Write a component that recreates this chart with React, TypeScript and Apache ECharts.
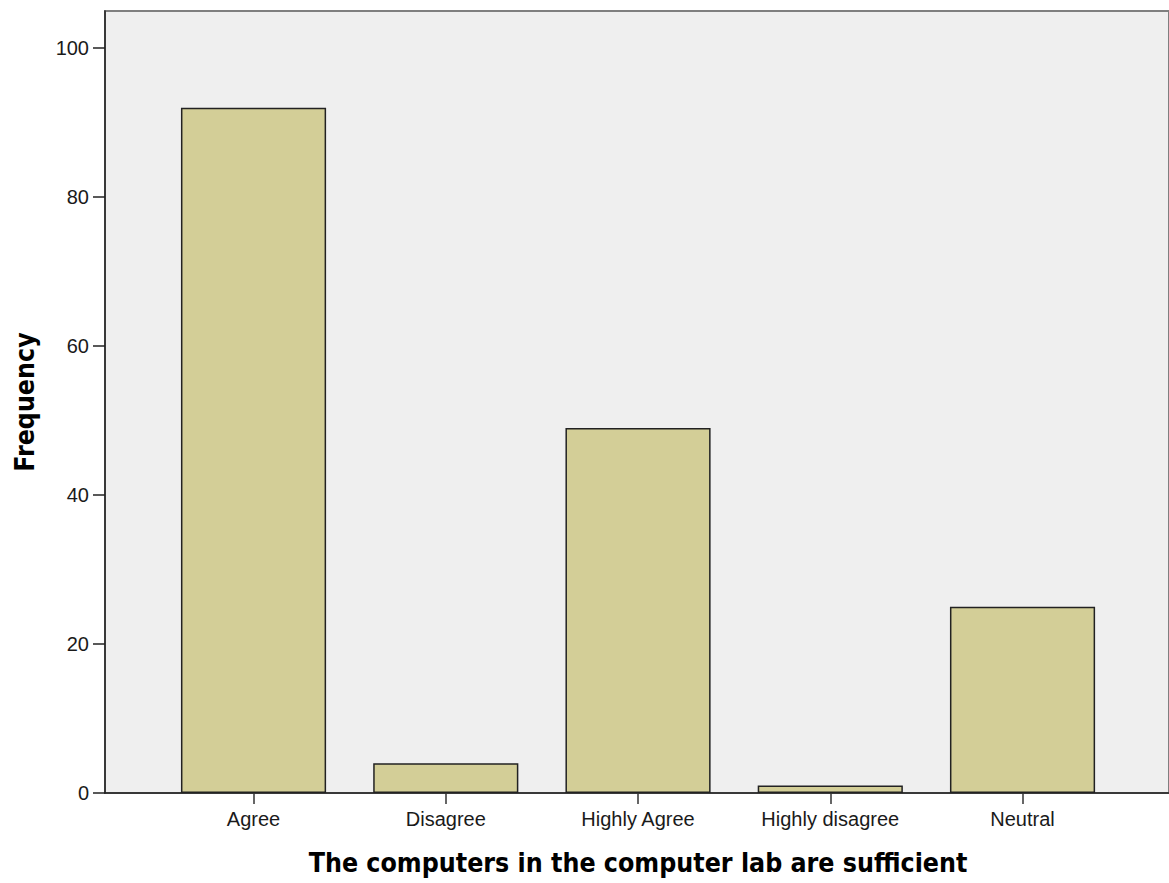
import React, { useEffect, useRef } from "react";
import * as echarts from "echarts";

const categories = ["Agree", "Disagree", "Highly Agree", "Highly disagree", "Neutral"];
const frequencies = [92, 4, 49, 1, 25];
const yTicks = [0, 20, 40, 60, 80, 100];
const xTitle = "The computers in the computer lab are sufficient";
const yTitle = "Frequency";

const labelFont = { fontFamily: "Liberation Sans", fontSize: 20, color: "#1a1a1a" };
const titleFont = {
  fontFamily: "DejaVu Sans Condensed",
  fontWeight: "bold" as const,
  fontSize: 26.5,
  color: "#000",
};

export default function App() {
  const ref = useRef<HTMLDivElement>(null);
  useEffect(() => {
    if (!ref.current) return;
    const chart = echarts.init(ref.current, null, { renderer: "svg" });
    chart.setOption({
      animation: false,
      backgroundColor: "#ffffff",
      grid: [
        {
          left: 105,
          top: 11,
          width: 1100,
          bottom: 90,
          show: true,
          backgroundColor: "#efefef",
          borderColor: "#7f7f7f",
          borderWidth: 2,
        },
        { left: 157.4, width: 961.25, top: 11, bottom: 90 },
      ],
      xAxis: [
        {
          gridIndex: 0,
          type: "value",
          min: 0,
          max: 1,
          axisLine: { show: true, lineStyle: { color: "#222", width: 1.5 } },
          axisTick: { show: false },
          axisLabel: { show: false },
          splitLine: { show: false },
        },
        {
          gridIndex: 1,
          type: "category",
          data: categories,
          axisLine: { show: false },
          axisTick: { show: true, alignWithLabel: true, length: 11, lineStyle: { color: "#333", width: 1.5 } },
          axisLabel: { ...labelFont, margin: 16 },
          name: xTitle,
          nameLocation: "middle",
          nameGap: 56,
          nameTextStyle: titleFont,
        },
      ],
      yAxis: [
        {
          gridIndex: 0,
          type: "value",
          min: 0,
          max: 105,
          axisLine: { show: true, lineStyle: { color: "#222", width: 1.5 } },
          axisTick: { show: true, customValues: yTicks, length: 12, lineStyle: { color: "#222", width: 1.5 } },
          axisLabel: { ...labelFont, customValues: yTicks, margin: 16 },
          splitLine: { show: false },
          name: yTitle,
          nameLocation: "middle",
          nameGap: 67,
          nameTextStyle: titleFont,
        },
        { gridIndex: 1, type: "value", min: 0, max: 105, show: false },
      ],
      series: [
        {
          type: "bar",
          xAxisIndex: 1,
          yAxisIndex: 1,
          data: frequencies,
          barWidth: "75.5%",
          itemStyle: { color: "#d3ce97", borderColor: "#222", borderWidth: 1.5 },
        },
      ],
    });
    return () => chart.dispose();
  }, []);
  return (
    <div
      ref={ref}
      style={{ position: "absolute", left: 0, top: 0, width: 1169, height: 883 }}
    />
  );
}
